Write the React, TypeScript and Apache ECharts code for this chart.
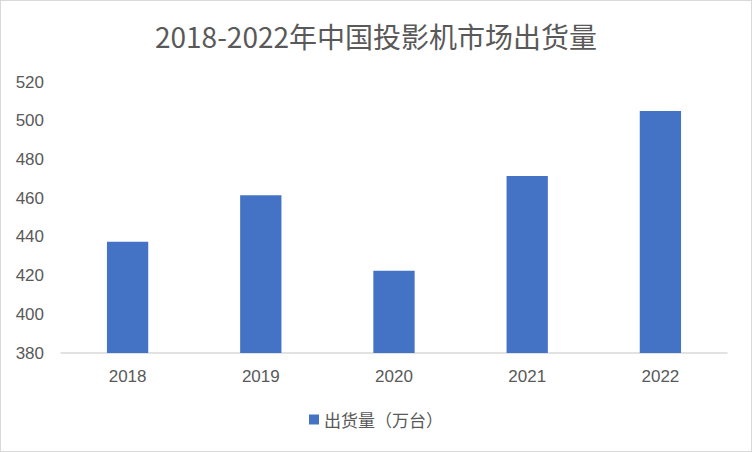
import { useEffect, useRef } from 'react';
import * as echarts from 'echarts';

const years = ['2018', '2019', '2020', '2021', '2022'];
const shipments = [437.5, 461.5, 422.5, 471.5, 505];
const seriesName = '出货量（万台）';
const title = '2018-2022年中国投影机市场出货量';

export default function App() {
  const ref = useRef<HTMLDivElement | null>(null);

  useEffect(() => {
    document.body.style.margin = '0';
    if (!ref.current) return;
    const chart = echarts.init(ref.current, null, { renderer: 'svg' });
    chart.setOption({
      animation: false,
      backgroundColor: '#ffffff',
      title: {
        text: title,
        left: 'center',
        top: 16,
        textStyle: {
          fontFamily: 'Noto Sans CJK SC',
          fontSize: 28,
          fontWeight: 'normal',
          color: '#595959',
        },
      },
      grid: { left: 60, right: 24, top: 81, bottom: 98 },
      legend: {
        bottom: 18,
        left: 'center',
        icon: 'rect',
        itemWidth: 10,
        itemHeight: 10,
        itemGap: 6,
        textStyle: {
          fontFamily: 'Noto Sans CJK SC',
          fontSize: 17,
          color: '#595959',
        },
        data: [seriesName],
      },
      xAxis: {
        type: 'category',
        data: years,
        axisTick: { show: false },
        axisLine: { lineStyle: { color: '#d9d9d9', width: 1.5 } },
        axisLabel: {
          color: '#595959',
          fontSize: 17,
          margin: 15,
          fontFamily: 'Liberation Sans',
        },
      },
      yAxis: {
        type: 'value',
        min: 380,
        max: 520,
        interval: 20,
        splitLine: { show: false },
        axisLine: { show: false },
        axisTick: { show: false },
        axisLabel: {
          color: '#595959',
          fontSize: 17,
          margin: 17,
          fontFamily: 'Liberation Sans',
        },
      },
      series: [
        {
          name: seriesName,
          type: 'bar',
          data: shipments,
          barWidth: '31%',
          itemStyle: { color: '#4472c4' },
        },
      ],
    });
    return () => chart.dispose();
  }, []);

  return (
    <div
      ref={ref}
      style={{
        width: 750,
        height: 450,
        border: '1px solid #d9d9d9',
      }}
    />
  );
}
